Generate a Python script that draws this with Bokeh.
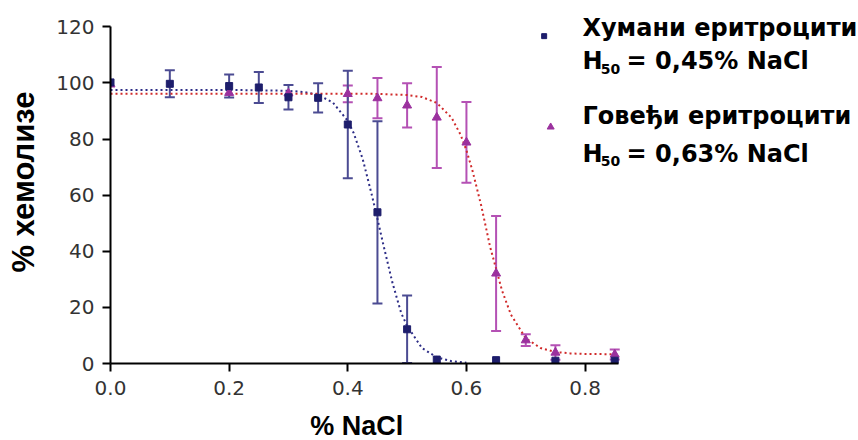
import math
from bokeh.plotting import figure
from bokeh.models import ColumnDataSource, Whisker, TeeHead, Label, FixedTicker, Range1d
from bokeh.embed import file_html
from bokeh.resources import INLINE

# ---- data ----
human_x = [0.0, 0.1, 0.2, 0.25, 0.3, 0.35, 0.4, 0.45, 0.5, 0.55, 0.65, 0.75, 0.85]
human_y = [100.2, 99.7, 98.9, 98.4, 94.9, 94.7, 85.2, 53.9, 12.2, 1.4, 1.2, 1.0, 1.0]
human_err = [0, 4.8, 4.1, 5.5, 4.4, 5.2, 19.2, 32.5, 12.0, 0, 0, 0, 0]

bovine_x = [0.0, 0.2, 0.3, 0.4, 0.45, 0.5, 0.55, 0.6, 0.65, 0.7, 0.75, 0.85]
bovine_y = [99.5, 96.5, 96.3, 96.1, 94.6, 92.0, 87.7, 78.8, 32.1, 8.3, 3.9, 3.2]
bovine_err = [0, 0, 0, 3.0, 7.2, 7.9, 18.0, 14.4, 20.5, 2.1, 2.6, 1.8]

# fitted curves
human_curve_x = [0.0, 0.05, 0.1, 0.15, 0.2, 0.25, 0.3, 0.325, 0.35, 0.375, 0.4, 0.41, 0.425,
                 0.44, 0.45, 0.46, 0.475, 0.49, 0.5, 0.525, 0.55, 0.575, 0.6]
human_curve_y = [97.5, 97.5, 97.5, 97.5, 97.5, 97.4, 97.2, 96.8, 95.8, 93.0, 86.5, 82.1, 73.0,
                 60.5, 51.6, 42.3, 29.0, 18.0, 13.4, 5.5, 2.2, 0.8, 0.3]

bovine_curve_x = [0.0, 0.1, 0.2, 0.3, 0.4, 0.45, 0.5, 0.525, 0.55, 0.575, 0.59, 0.6, 0.61,
                  0.625, 0.64, 0.65, 0.66, 0.675, 0.7, 0.725, 0.75, 0.775, 0.8, 0.85]
bovine_curve_y = [96.2, 96.2, 96.2, 96.2, 96.2, 96.1, 95.7, 95.0, 92.9, 87.6, 81.6, 76.0, 68.9,
                  56.2, 41.5, 33.8, 26.0, 17.4, 9.0, 5.5, 4.1, 3.6, 3.4, 3.3]

x_ticks = [0.0, 0.2, 0.4, 0.6, 0.8]
x_tick_labels = ["0.0", "0.2", "0.4", "0.6", "0.8"]
y_ticks = [0, 20, 40, 60, 80, 100, 120]

legend_human = ["Хумани еритроцити", "H", "50", "= 0,45% NaCl"]
legend_bovine = ["Говеђи еритроцити", "H", "50", "= 0,63% NaCl"]
x_title = "% NaCl"
y_title = "% хемолизе"

# ---- colours ----
HUMAN_C = "#1e1e6c"
HUMAN_ERR = "#4b4b92"
HUMAN_LINE = "#2c2c86"
BOV_C = "#9b319e"
BOV_ERR = "#b451b4"
BOV_LINE = "#d02a2a"

X_END = 0.857   # end of the drawn x axis
Y_END = 120     # end of the drawn y axis

p = figure(width=858, height=440, output_backend="svg", toolbar_location=None,
           x_range=Range1d(0, 1.2609), y_range=Range1d(0, 129.4),
           min_border_left=110, min_border_right=0, min_border_top=0, min_border_bottom=77)
p.outline_line_color = None
p.grid.visible = False
p.background_fill_color = "white"
p.border_fill_color = "white"

for ax in (p.xaxis, p.yaxis):
    ax.axis_line_color = "black"
    ax.axis_line_width = 2
    ax.major_tick_line_color = "black"
    ax.major_tick_line_width = 2
    ax.major_tick_out = 8
    ax.major_tick_in = 0
    ax.minor_tick_line_color = None
    ax.major_label_text_font = "DejaVu Sans"
    ax.major_label_text_font_size = "20px"
    ax.major_label_text_color = "#333333"

p.xaxis.ticker = FixedTicker(ticks=x_ticks)
p.xaxis.major_label_overrides = {t: l for t, l in zip(x_ticks, x_tick_labels)}
p.xaxis.major_label_standoff = 9
p.xaxis.bounds = (0, X_END)
p.yaxis.ticker = FixedTicker(ticks=y_ticks)
p.yaxis.major_label_standoff = 8
p.yaxis.bounds = (0, Y_END)

p.yaxis.axis_label = y_title
p.yaxis.axis_label_text_font = "Liberation Sans"
p.yaxis.axis_label_text_font_style = "bold"
p.yaxis.axis_label_text_font_size = "31px"
p.yaxis.axis_label_text_color = "black"
p.yaxis.axis_label_standoff = 12

# x title, placed in the lower side panel so that it is not clipped by the frame
p.add_layout(Label(x=0.415, y=-22.4, text=x_title, text_font="Liberation Sans",
                   text_font_style="bold", text_font_size="27px", text_color="black",
                   text_align="center", text_baseline="alphabetic"), "below")

# curves
p.line(human_curve_x, human_curve_y, line_color=HUMAN_LINE, line_width=2, line_dash="2 3")
p.line(bovine_curve_x, bovine_curve_y, line_color=BOV_LINE, line_width=2, line_dash="2 3")

# error bars
def add_err(xs, ys, es, color):
    sx = [x for x, e in zip(xs, es) if e > 0]
    up = [y + e for y, e in zip(ys, es) if e > 0]
    lo = [max(y - e, 0) for y, e in zip(ys, es) if e > 0]
    src = ColumnDataSource(dict(x=sx, upper=up, lower=lo))
    w = Whisker(base="x", upper="upper", lower="lower", source=src,
                line_color=color, line_width=2,
                upper_head=TeeHead(size=10, line_color=color, line_width=2),
                lower_head=TeeHead(size=10, line_color=color, line_width=2))
    p.add_layout(w)

add_err(bovine_x, bovine_y, bovine_err, BOV_ERR)
add_err(human_x, human_y, human_err, HUMAN_ERR)

p.scatter(bovine_x, bovine_y, marker="triangle", size=9, fill_color=BOV_C, line_color=BOV_C)
p.scatter(human_x, human_y, marker="square", size=7, fill_color=HUMAN_C, line_color=HUMAN_C)

# legend markers
p.scatter([0.731], [116.7], marker="square", size=5, fill_color=HUMAN_C, line_color=HUMAN_C)
p.scatter([0.742], [84.3], marker="triangle", size=7, fill_color=BOV_C, line_color=BOV_C)

LF = "DejaVu Sans"
def leg(lines, y1, y2):
    p.add_layout(Label(x=0.7956, y=y1, text=lines[0], text_font=LF, text_font_style="bold",
                       text_font_size="24px", text_color="black", text_baseline="alphabetic"))
    p.add_layout(Label(x=0.7956, y=y2, text=lines[1], text_font=LF, text_font_style="bold",
                       text_font_size="24px", text_color="black", text_baseline="alphabetic"))
    p.add_layout(Label(x=0.8265, y=y2 - 2.7, text=lines[2], text_font=LF, text_font_style="bold",
                       text_font_size="14px", text_color="black", text_baseline="alphabetic"))
    p.add_layout(Label(x=0.870, y=y2, text=lines[3], text_font=LF, text_font_style="bold",
                       text_font_size="24px", text_color="black", text_baseline="alphabetic"))

leg(legend_human, 119.6, 107.8)
leg(legend_bovine, 88.2, 74.8)

open("out.html", "w").write(file_html(p, INLINE))
